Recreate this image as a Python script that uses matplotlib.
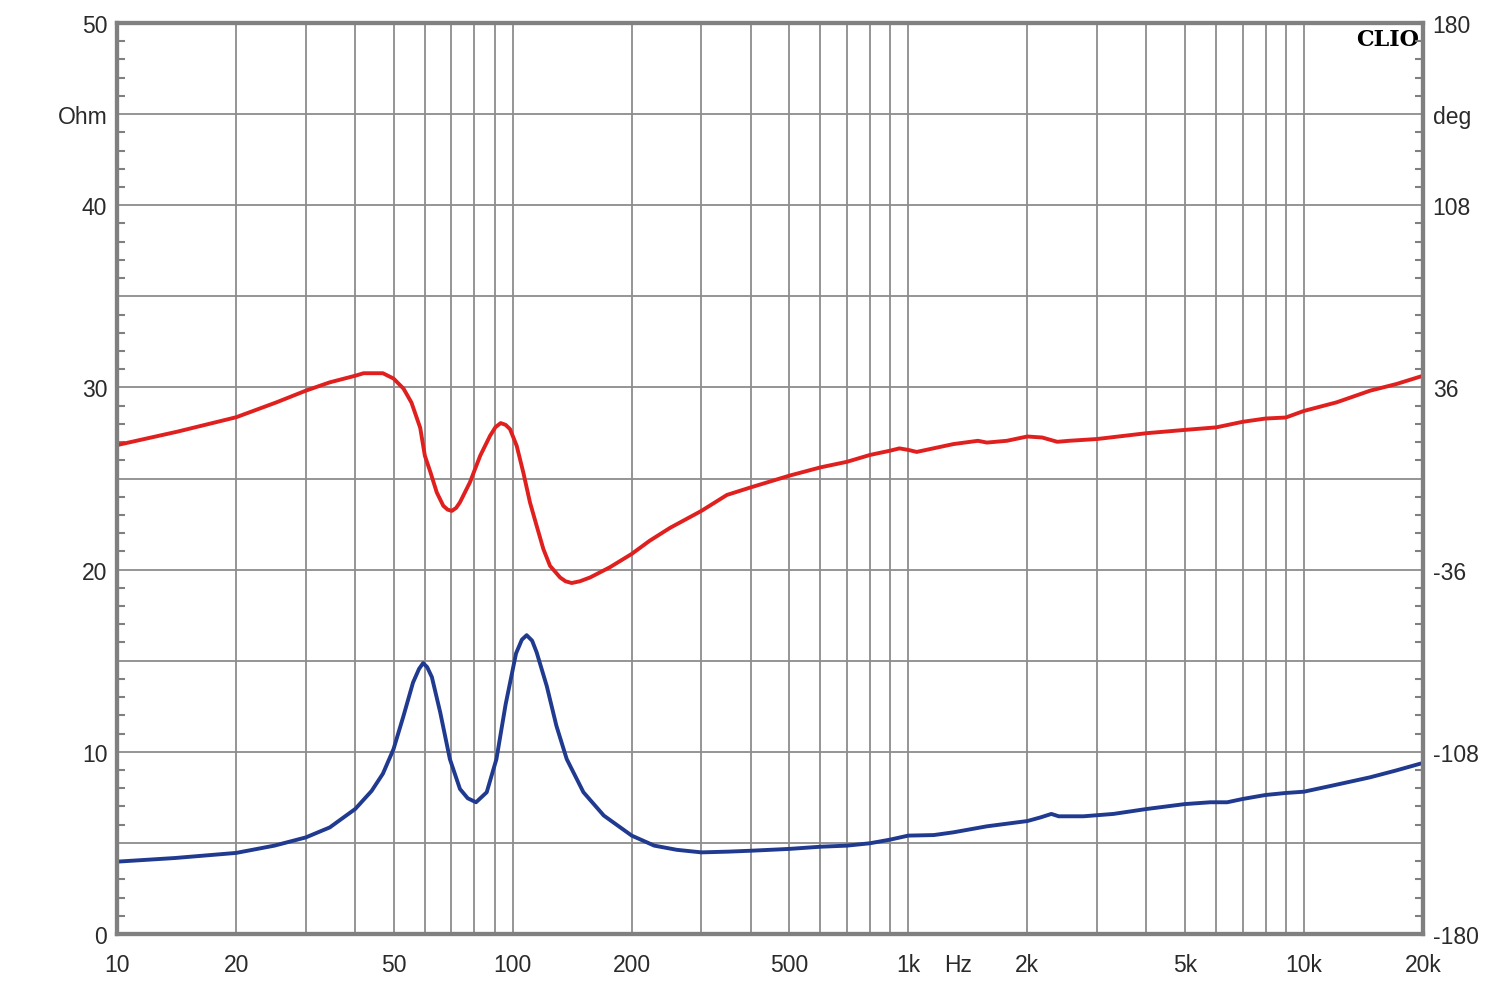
import numpy as np
import matplotlib
matplotlib.use("Agg")
import matplotlib.pyplot as plt
from matplotlib.ticker import FixedLocator, NullFormatter, MultipleLocator

# ---- data ----
freq_ohm = [10, 14, 20, 25, 30, 34.5, 40, 44, 47, 50, 53, 56, 58, 59.4, 60.8, 62.5, 65.6, 69.4, 73.6, 77, 80.8,
            86, 91, 96, 102, 105.5, 108.5, 112, 115, 122, 129, 137, 151, 170, 200, 228, 260, 300, 350, 400, 500,
            600, 700, 800, 900, 1000, 1160, 1300, 1580, 2000, 2160, 2300, 2400, 2770, 3300, 4000, 5000, 5800,
            6400, 7000, 8000, 9000, 10000, 12000, 14700, 17000, 20000]
impedance_ohm = [3.97, 4.17, 4.45, 4.85, 5.3, 5.85, 6.86, 7.85, 8.8, 10.15, 11.98, 13.8, 14.55, 14.87, 14.65,
                 14.1, 12.17, 9.6, 7.96, 7.45, 7.23, 7.78, 9.6, 12.6, 15.4, 16.15, 16.4, 16.1, 15.46, 13.6, 11.43,
                 9.6, 7.78, 6.5, 5.4, 4.85, 4.62, 4.48, 4.52, 4.57, 4.67, 4.79, 4.85, 4.98, 5.18, 5.4, 5.43, 5.58,
                 5.91, 6.2, 6.4, 6.59, 6.46, 6.46, 6.59, 6.86, 7.13, 7.23, 7.23, 7.41, 7.63, 7.74, 7.81, 8.18, 8.6,
                 8.96, 9.39]

freq_deg = [10, 14.2, 20, 25.3, 30, 34.5, 40, 42, 47, 50, 53, 55.5, 58.4, 60, 62, 64.3, 66.8, 68.5, 70.2, 72,
            73.6, 78, 82.8, 87.7, 90.5, 93.3, 96, 98.5, 102.4, 106.4, 110.6, 115, 119.6, 124.3, 131.8, 136, 141,
            148, 157, 176, 200, 222, 250, 300, 348, 400, 500, 600, 700, 800, 900, 950, 1000, 1050, 1300, 1500,
            1580, 1775, 2000, 2180, 2380, 2550, 3000, 4000, 5000, 6000, 7000, 8000, 9000, 10000, 12100, 14700,
            17100, 20000]
phase_deg = [13.2, 18.5, 24.2, 30.1, 34.7, 38, 40.6, 41.6, 41.6, 39.5, 35.5, 30, 20, 9, 2.4, -5.5, -10.8, -12.3,
             -12.8, -11.6, -9.4, -1.5, 9, 16.9, 20.3, 21.9, 21.2, 19.5, 12.9, 2.4, -9.4, -18.7, -27.9, -34.5,
             -39.1, -40.6, -41.3, -40.6, -39.1, -35.1, -29.8, -24.6, -19.5, -12.8, -6.5, -3.5, 1.1, 4.4, 6.6, 9.3,
             11.0, 11.9, 11.3, 10.5, 13.6, 14.9, 14.2, 14.9, 16.6, 16.2, 14.5, 14.9, 15.6, 17.9, 19.2, 20.2, 22.4,
             23.7, 24.1, 26.7, 30.1, 34.7, 37.3, 40.6]

x_tick_vals = [10, 20, 50, 100, 200, 500, 1000, 2000, 5000, 10000, 20000]
x_tick_labels = ["10", "20", "50", "100", "200", "500", "1k", "2k", "5k", "10k", "20k"]
left_tick_vals = [0, 5, 10, 15, 20, 25, 30, 35, 40, 45, 50]
left_tick_labels = ["0", "", "10", "", "20", "", "30", "", "40", "Ohm", "50"]
right_tick_vals = [-180, -144, -108, -72, -36, 0, 36, 72, 108, 144, 180]
right_tick_labels = ["-180", "", "-108", "", "-36", "", "36", "", "108", "deg", "180"]

# ---- style ----
FONT = ["Liberation Sans", "DejaVu Sans"]
TXT = "#2a2a2a"
GRID = "#8c8c8c"
SPINE = "#808080"
RED = "#e0201f"
BLUE = "#1f3a8f"
FS = 16.5

fig = plt.figure(figsize=(15, 9.87), dpi=100)
ax = fig.add_axes([117 / 1500, 52 / 987, 1306 / 1500, 911 / 987])
ax2 = ax.twinx()

ax.set_xscale("log")
ax.set_xlim(10, 20000)
ax.set_ylim(0, 50)
ax2.set_ylim(-180, 180)

grid_x = [m * 10 ** d for d in range(1, 5) for m in range(1, 10) if m * 10 ** d <= 20000]
for gx in grid_x:
    ax.axvline(gx, color=GRID, lw=1.3, zorder=1)
for gy in left_tick_vals:
    ax.axhline(gy, color=GRID, lw=1.3, zorder=1)

ax.plot(freq_ohm, impedance_ohm, color=BLUE, lw=2.8, zorder=3,
        solid_capstyle="round", solid_joinstyle="round")
ax2.plot(freq_deg, phase_deg, color=RED, lw=2.8, zorder=3,
         solid_capstyle="round", solid_joinstyle="round")

ax.xaxis.set_major_locator(FixedLocator(x_tick_vals))
ax.set_xticklabels(x_tick_labels)
ax.xaxis.set_minor_locator(FixedLocator([]))
ax.xaxis.set_minor_formatter(NullFormatter())
ax.tick_params(axis="x", which="both", length=0, pad=14, labelsize=FS, labelcolor=TXT)

ax.set_yticks(left_tick_vals)
ax.set_yticklabels(left_tick_labels)
ax.yaxis.set_minor_locator(MultipleLocator(1))
ax.tick_params(axis="y", which="major", length=0, pad=7, labelsize=FS, labelcolor=TXT)
ax.tick_params(axis="y", which="minor", direction="in", length=6, width=1.5, color=SPINE)

ax2.set_yticks(right_tick_vals)
ax2.set_yticklabels(right_tick_labels)
ax2.yaxis.set_minor_locator(MultipleLocator(7.2))
ax2.tick_params(axis="y", which="major", length=0, pad=7, labelsize=FS, labelcolor=TXT)
ax2.tick_params(axis="y", which="minor", direction="in", length=6, width=1.5, color=SPINE)

for a in (ax, ax2):
    for s in a.spines.values():
        s.set_color(SPINE)
        s.set_linewidth(3)
        s.set_zorder(4)
    for lab in a.get_xticklabels() + a.get_yticklabels():
        lab.set_fontfamily(FONT)

ax.annotate("Hz", xy=(1337, 0), xycoords=("data", "axes fraction"), xytext=(0, -14),
            textcoords="offset points", ha="center", va="top", fontsize=FS, color=TXT, family=FONT)

ax.text(0.997, 0.995, "CLIO", transform=ax.transAxes, ha="right", va="top",
        fontsize=16, fontweight="bold", family=["DejaVu Serif"], color="black", zorder=5)

fig.savefig("out.png", dpi=100)
